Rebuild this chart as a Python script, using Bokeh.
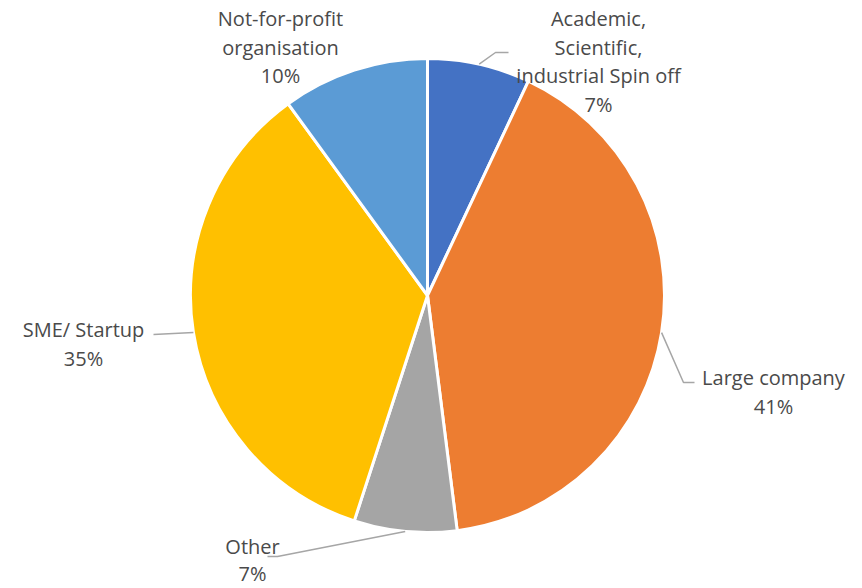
import math
from bokeh.plotting import figure
from bokeh.models import Range1d, ColumnDataSource
from bokeh.core.properties import value
from bokeh.embed import file_html
from bokeh.resources import INLINE

# ---- data ----
categories = ["Academic, Scientific, industrial Spin off", "Large company", "Other",
              "SME/ Startup", "Not-for-profit organisation"]
shares = [7, 41, 7, 35, 10]
colors = ["#4472C4", "#ED7D31", "#A5A5A5", "#FFC000", "#5B9BD5"]
label_lines = [
    ["Academic,", "Scientific,", "industrial Spin off", "7%"],
    ["Large company", "41%"],
    ["Other", "7%"],
    ["SME/ Startup", "35%"],
    ["Not-for-profit", "organisation", "10%"],
]

# ---- layout (page pixel coordinates) ----
W, H = 862, 588
def Y(py):
    return H - py

cx, cy, r = 427, Y(295), 237
label_pos = [(598, 18), (773, 377), (252, 546), (83, 329), (280, 18)]  # center x, first-line y
line_step = 28.5
steps = [28.5, 28.5, 27, 28.5, 28.5]
elbows = [
    [(495, 52), (508, 52)],
    [(683, 382), (694, 382)],
    [(277, 556), (267, 556)],
    [(153, 334)],
    None,
]

p = figure(width=W, height=H, output_backend="svg", toolbar_location=None,
           x_range=Range1d(0, W), y_range=Range1d(0, H),
           min_border=0, outline_line_color=None)
p.axis.visible = False
p.grid.visible = False
p.background_fill_color = "white"

total = sum(shares)
cum = 0.0
starts, ends, mids = [], [], []
for s in shares:
    a0 = math.pi / 2 - 2 * math.pi * cum / total
    cum += s
    a1 = math.pi / 2 - 2 * math.pi * cum / total
    starts.append(a0)
    ends.append(a1)
    mids.append((a0 + a1) / 2)

src = ColumnDataSource(dict(start=starts, end=ends, color=colors, cat=categories))
p.wedge(x=cx, y=cy, radius=r, start_angle="start", end_angle="end", direction="clock",
        fill_color="color", line_color="white", line_width=3, source=src)

# leader lines
for i, el in enumerate(elbows):
    if el is None:
        continue
    sx = cx + r * math.cos(mids[i])
    sy = cy + r * math.sin(mids[i])
    xs = [sx] + [e[0] for e in el]
    ys = [sy] + [Y(e[1]) for e in el]
    p.line(xs, ys, line_color="#A6A6A6", line_width=1.5)

# labels
tx, ty, tt = [], [], []
for i, lines in enumerate(label_lines):
    lx, ly = label_pos[i]
    for j, t in enumerate(lines):
        tx.append(lx)
        ty.append(Y(ly + j * steps[i]))
        tt.append(t)
p.text(x=tx, y=ty, text=tt, text_align="center", text_baseline="middle",
       text_font=value("Open Sans"), text_font_size="20px", text_color="#4a4a4a")

open("out.html", "w").write(file_html(p, INLINE))
